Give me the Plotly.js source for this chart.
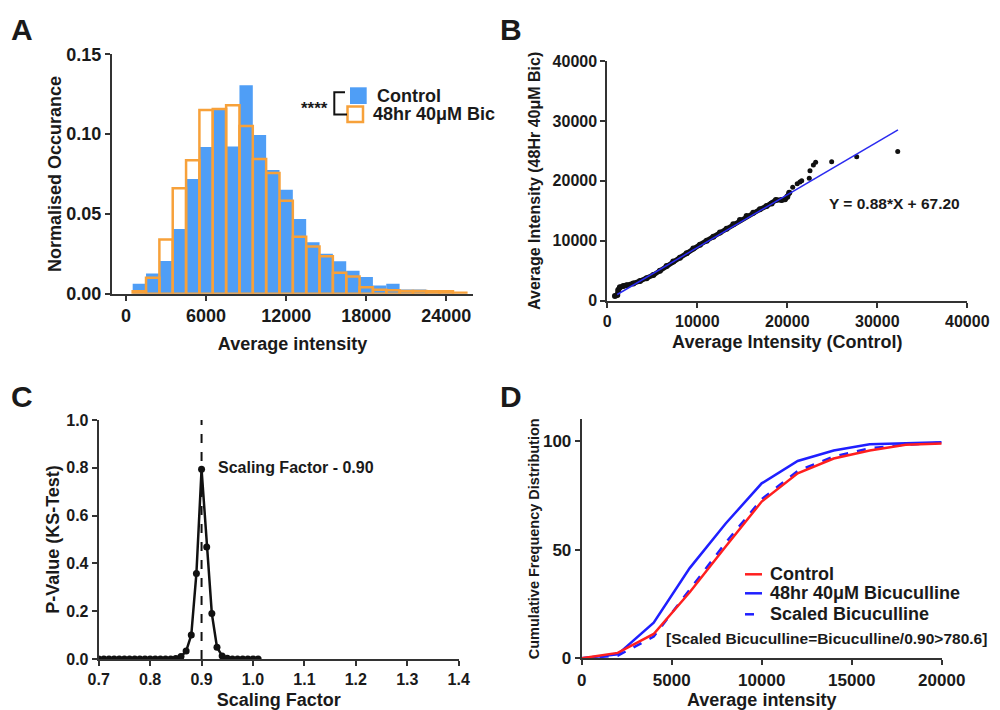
<!DOCTYPE html>
<html><head><meta charset="utf-8">
<script src="https://cdn.plot.ly/plotly-3.0.1.min.js"></script>
<style>html,body{margin:0;padding:0;background:#fff}#chart{width:1000px;height:710px}</style>
</head><body><div id="chart"></div>
<script>
// ---------- Panel A: histogram (bin centres, normalised occurrence) ----------
const binCenters = [1000,2000,3000,4000,5000,6000,7000,8000,9000,10000,11000,12000,13000,14000,15000,16000,17000,18000,19000,20000,21000,22000,23000,24000,25000];
const controlFreq = [0.0063,0.0127,0.0205,0.0405,0.0719,0.0919,0.1155,0.0923,0.1306,0.0994,0.0775,0.0652,0.0468,0.0322,0.0251,0.0203,0.0144,0.0104,0.0052,0.0063,0.0027,0.0027,0.0010,0.0005,0.0002];
const bicFreq = [0.0015,0.0100,0.0340,0.0660,0.0836,0.1151,0.1157,0.1180,0.1050,0.0844,0.0756,0.0583,0.0357,0.0295,0.0234,0.0132,0.0107,0.0040,0.0025,0.0021,0.0017,0.0017,0.0015,0.0015,0.0006];
const aXTicks = [0,6000,12000,18000,24000];
const aYTicks = [0,0.05,0.10,0.15];

// ---------- Panel B: Q-Q scatter ----------
const qqDenseX = [850,1110,1220,1400,1780,2150,2890,3630,4370,5110,5850,6590,7330,8070,8820,9560,10300,11040,11780,12520,13260,14000,14740,15480,16220,16960,17700,18260,18740,19370,19740,20000,20220];
const qqDenseY = [780,950,1780,2230,2450,2560,2890,3280,3730,4280,5000,5790,6560,7180,7900,8730,9350,10010,10680,11400,12020,12740,13460,14130,14690,15240,15800,16240,16800,16800,16910,17360,18020];
const qqOutX = [20600,21100,21400,21600,22440,22520,22900,23150,24930,27710,32270];
const qqOutY = [18930,19500,19800,20000,20430,21700,22650,23100,23200,24040,24880];
const fitX = [1100,32300];
const fitY = [1035,28490];
const bTicks = [0,10000,20000,30000,40000];

// ---------- Panel C: KS-test p-value vs scaling factor ----------
const scaleFactor = [0.70,0.71,0.72,0.73,0.74,0.75,0.76,0.77,0.78,0.79,0.80,0.81,0.82,0.83,0.84,0.85,0.86,0.87,0.88,0.89,0.90,0.91,0.92,0.93,0.94,0.95,0.96,0.97,0.98,0.99,1.00,1.01];
const pValue = [0,0,0,0,0,0,0,0,0,0,0,0,0,0,0,0.002,0.010,0.033,0.100,0.358,0.794,0.469,0.190,0.049,0.013,0.003,0,0,0,0,0,0];
const bestFactor = 0.90;

// ---------- Panel D: cumulative frequency distribution ----------
const dX = [0,2000,4000,6000,8000,10000,12000,14000,16000,18000,20000];
const ctrlCum = [0,2.5,11.2,30.4,51.4,72.1,85.1,91.9,95.6,98.2,98.8];
const bicCum = [0,1.8,16.4,41.5,62.0,80.5,90.8,95.6,98.5,99.0,99.4];
const scaledCum = [0,1.2,10.0,31.4,53.2,73.2,86.2,92.8,96.6,98.3,99.1];

const W=1000,H=710;
const px=x=>x/W, py=y=>1-y/H;
const FONT='"Liberation Sans", Arial, Helvetica, sans-serif';
const INK='#1a1a1a';
const BLUE_FILL='#4f9ef6', ORANGE='#f7a13a';
function f(size){return {family:FONT,size:size,color:INK,weight:'bold'};}
function axis(o){
  return Object.assign({showline:true,linecolor:'#333',linewidth:2,ticks:'outside',ticklen:5,tickwidth:2,tickcolor:'#333',
    showgrid:false,zeroline:false,fixedrange:true,tickfont:f(17)},o);
}

const traces = [
  {type:'bar',x:binCenters,y:controlFreq,width:1000,xaxis:'x',yaxis:'y',name:'Control',
   marker:{color:BLUE_FILL,line:{width:0}},showlegend:false},
  {type:'bar',x:binCenters,y:bicFreq,width:1000,xaxis:'x',yaxis:'y',name:'48hr 40μM Bic',
   marker:{color:'rgba(0,0,0,0)',line:{color:ORANGE,width:2.5}},showlegend:false},

  {type:'scatter',mode:'lines+markers',x:qqDenseX,y:qqDenseY,xaxis:'x2',yaxis:'y2',
   line:{color:'#111',width:5},marker:{color:'#111',size:6},showlegend:false},
  {type:'scatter',mode:'markers',x:qqOutX,y:qqOutY,xaxis:'x2',yaxis:'y2',
   marker:{color:'#111',size:5},showlegend:false},
  {type:'scatter',mode:'lines',x:fitX,y:fitY,xaxis:'x2',yaxis:'y2',
   line:{color:'#2b2bf0',width:1.5},showlegend:false},

  {type:'scatter',mode:'lines',x:[bestFactor,bestFactor],y:[0,1],xaxis:'x3',yaxis:'y3',
   line:{color:'#111',width:2,dash:'dash'},showlegend:false},
  {type:'scatter',mode:'lines+markers',x:scaleFactor,y:pValue,xaxis:'x3',yaxis:'y3',
   line:{color:'#111',width:2.5},marker:{color:'#111',size:7},showlegend:false},

  {type:'scatter',mode:'lines',x:dX,y:bicCum,xaxis:'x4',yaxis:'y4',name:'48hr 40μM Bicuculline',
   line:{color:'#1f1fff',width:2.5},showlegend:false},
  {type:'scatter',mode:'lines',x:dX,y:scaledCum,xaxis:'x4',yaxis:'y4',name:'Scaled Bicuculline',
   line:{color:'#1f1fff',width:2.5,dash:'dash'},showlegend:false},
  {type:'scatter',mode:'lines',x:dX,y:ctrlCum,xaxis:'x4',yaxis:'y4',name:'Control',
   line:{color:'#ff1f1f',width:2.5},showlegend:false}
];

const layout = {
  width:W,height:H,margin:{l:0,r:0,t:0,b:0},paper_bgcolor:'#fff',plot_bgcolor:'rgba(0,0,0,0)',
  barmode:'overlay',showlegend:false,font:{family:FONT,color:INK},
  xaxis:axis({domain:[px(112),px(473)],anchor:'y',range:[-1050,26000],tickvals:aXTicks,tickformat:'d',tickfont:f(18),
    title:{text:'Average intensity',font:f(18),standoff:12}}),
  yaxis:axis({domain:[py(293.7),py(54.3)],anchor:'x',range:[0,0.15],tickvals:aYTicks,tickformat:'.2f',tickfont:f(18),
    title:{text:'Normalised Occurance',font:f(18),standoff:0}}),
  xaxis2:axis({domain:[px(607.3),px(967.3)],anchor:'y2',range:[0,40000],tickvals:bTicks,tickformat:'d',tickfont:f(16),
    title:{text:'Average Intensity (Control)',font:f(18),standoff:6}}),
  yaxis2:axis({domain:[py(300.7),py(61)],anchor:'x2',range:[0,40000],tickvals:bTicks,tickformat:'d',tickfont:f(16),
    title:{text:'Average Intensity (48Hr 40μM Bic)',font:f(16),standoff:8}}),
  xaxis3:axis({domain:[px(98.7),px(458.7)],anchor:'y3',range:[0.7,1.4],dtick:0.1,tickformat:'.1f',tickfont:f(16),
    title:{text:'Scaling Factor',font:f(18),standoff:8}}),
  yaxis3:axis({domain:[py(659),py(420)],anchor:'x3',range:[0,1],dtick:0.2,tickformat:'.1f',tickfont:f(16),
    title:{text:'P-Value (KS-Test)',font:f(18),standoff:2}}),
  xaxis4:axis({domain:[px(581.7),px(941.7)],anchor:'y4',range:[0,20000],dtick:5000,tickformat:'d',tickfont:f(17),
    title:{text:'Average intensity',font:f(18),standoff:8}}),
  yaxis4:axis({domain:[py(658.3),py(419.2)],anchor:'x4',range:[0,110],tickvals:[0,50,100],tickformat:'d',tickfont:f(17),
    title:{text:'Cumulative Frequency Distribution',font:f(14.5),standoff:0}}),
  shapes:[
    // Panel A legend swatches and bracket
    {type:'rect',xref:'paper',yref:'paper',x0:px(350),x1:px(366.7),y0:py(104),y1:py(87.3),fillcolor:BLUE_FILL,line:{width:0}},
    {type:'rect',xref:'paper',yref:'paper',x0:px(347.5),x1:px(363),y0:py(122),y1:py(106.5),fillcolor:'rgba(0,0,0,0)',line:{color:ORANGE,width:2.5}},
    {type:'path',xref:'paper',yref:'paper',path:`M ${px(345)},${py(92.3)} L ${px(334.3)},${py(92.3)} L ${px(334.3)},${py(114.5)} L ${px(347)},${py(114.5)}`,line:{color:'#111',width:2}},
    // Panel D legend lines
    {type:'line',xref:'paper',yref:'paper',x0:px(745),x1:px(762),y0:py(574.3),y1:py(574.3),line:{color:'#ff1f1f',width:2.5}},
    {type:'line',xref:'paper',yref:'paper',x0:px(745),x1:px(762),y0:py(593.3),y1:py(593.3),line:{color:'#1f1fff',width:2.5}},
    {type:'line',xref:'paper',yref:'paper',x0:px(745),x1:px(762),y0:py(614.3),y1:py(614.3),line:{color:'#1f1fff',width:2.5,dash:'dash'}}
  ],
  annotations:[
    {text:'A',xref:'paper',yref:'paper',x:px(9),y:py(11),xanchor:'left',yanchor:'top',showarrow:false,font:f(30)},
    {text:'B',xref:'paper',yref:'paper',x:px(498),y:py(11),xanchor:'left',yanchor:'top',showarrow:false,font:f(30)},
    {text:'C',xref:'paper',yref:'paper',x:px(9),y:py(378),xanchor:'left',yanchor:'top',showarrow:false,font:f(30)},
    {text:'D',xref:'paper',yref:'paper',x:px(498),y:py(378),xanchor:'left',yanchor:'top',showarrow:false,font:f(30)},

    {text:'****',xref:'paper',yref:'paper',x:px(299),y:py(108),xanchor:'left',yanchor:'middle',showarrow:false,font:f(17)},
    {text:'Control',xref:'paper',yref:'paper',x:px(375),y:py(96),xanchor:'left',yanchor:'middle',showarrow:false,font:f(18)},
    {text:'48hr 40μM Bic',xref:'paper',yref:'paper',x:px(371),y:py(114),xanchor:'left',yanchor:'middle',showarrow:false,font:f(18)},

    {text:'Y = 0.88*X + 67.20',xref:'x2',yref:'y2',x:24400,y:16150,xanchor:'left',yanchor:'middle',showarrow:false,font:f(15.5)},

    {text:'Scaling Factor - 0.90',xref:'x3',yref:'y3',x:0.928,y:0.8,xanchor:'left',yanchor:'middle',showarrow:false,font:f(16)},

    {text:'Control',xref:'paper',yref:'paper',x:px(768),y:py(574.3),xanchor:'left',yanchor:'middle',showarrow:false,font:f(18)},
    {text:'48hr 40μM Bicuculline',xref:'paper',yref:'paper',x:px(768),y:py(593.3),xanchor:'left',yanchor:'middle',showarrow:false,font:f(18)},
    {text:'Scaled Bicuculline',xref:'paper',yref:'paper',x:px(768),y:py(614.3),xanchor:'left',yanchor:'middle',showarrow:false,font:f(18)},
    {text:'[Scaled Bicuculline=Bicuculline/0.90>780.6]',xref:'paper',yref:'paper',x:px(664),y:py(638.5),xanchor:'left',yanchor:'middle',showarrow:false,font:f(15.5)}
  ]
};

Plotly.newPlot('chart',traces,layout,{staticPlot:true,displayModeBar:false});
</script></body></html>
